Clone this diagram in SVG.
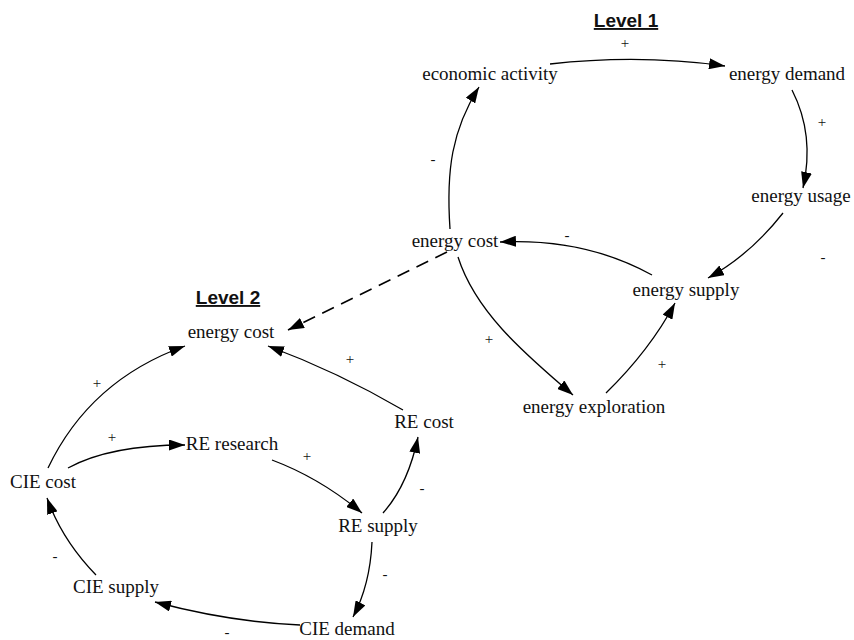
<svg xmlns="http://www.w3.org/2000/svg" width="854" height="640" viewBox="0 0 854 640">
<style>
.n{font-family:"Liberation Serif","Times New Roman",serif;font-size:19px;fill:#111;text-anchor:middle}
.s{font-family:"Liberation Serif","Times New Roman",serif;font-size:15px;fill:#111;text-anchor:middle}
.h{font-family:"Liberation Sans",Arial,sans-serif;font-size:19px;font-weight:bold;fill:#111;text-anchor:middle;text-decoration:underline}
.c{fill:none;stroke:#000;stroke-width:1.3;marker-end:url(#ah)}
.d{fill:none;stroke:#000;stroke-width:1.6;stroke-dasharray:13 8;marker-end:url(#ah)}
</style>
<defs>
<marker id="ah" markerUnits="userSpaceOnUse" markerWidth="16" markerHeight="11" refX="16" refY="5.5" orient="auto">
<path d="M0,0 L16,5.5 L0,11 z" fill="#000"/>
</marker>
</defs>
<rect width="854" height="640" fill="#fff"/>
<text class="h" x="626" y="27">Level 1</text>
<text class="h" x="228" y="304">Level 2</text>
<g id="connectors">
<path class="c" d="M550,64 Q640,54 725,66"/>
<path class="c" d="M792,90 Q815,135 803,188"/>
<path class="c" d="M783,213 Q750,255 708,278"/>
<path class="c" d="M652,275 Q585,238 500,242"/>
<path class="c" d="M450,229 C446,170 452,130 479,87"/>
<path class="c" d="M458,257 C475,310 520,350 573,395"/>
<path class="c" d="M606,393 Q650,350 675,303"/>
<path class="d" d="M447,252 L288,330"/>
<path class="c" d="M48,468 Q90,380 185,346"/>
<path class="c" d="M403,410 Q338,372 268,346"/>
<path class="c" d="M68,468 Q110,445 185,445"/>
<path class="c" d="M272,460 Q320,478 362,513"/>
<path class="c" d="M383,513 Q408,485 418,437"/>
<path class="c" d="M372,542 Q370,585 353,617"/>
<path class="c" d="M300,625 Q230,622 155,602"/>
<path class="c" d="M96,575 Q62,540 47,498"/>
</g>
<g id="polarities">
<text class="s" x="625" y="48">+</text>
<text class="s" x="822" y="127">+</text>
<text class="s" x="433" y="164">-</text>
<text class="s" x="567" y="240">-</text>
<text class="s" x="823" y="262">-</text>
<text class="s" x="489" y="344">+</text>
<text class="s" x="662" y="369">+</text>
<text class="s" x="97" y="388">+</text>
<text class="s" x="350" y="364">+</text>
<text class="s" x="112" y="442">+</text>
<text class="s" x="307" y="461">+</text>
<text class="s" x="422" y="493">-</text>
<text class="s" x="55" y="561">-</text>
<text class="s" x="385" y="579">-</text>
<text class="s" x="227" y="637">-</text>
</g>
<g id="economic-activity"><text class="n" x="490" y="80">economic activity</text></g>
<g id="energy-demand"><text class="n" x="787" y="80">energy demand</text></g>
<g id="energy-usage"><text class="n" x="801" y="202">energy usage</text></g>
<g id="energy-cost-1"><text class="n" x="455" y="247">energy cost</text></g>
<g id="energy-supply"><text class="n" x="686" y="296">energy supply</text></g>
<g id="energy-exploration"><text class="n" x="594" y="413">energy exploration</text></g>
<g id="energy-cost-2"><text class="n" x="231" y="338">energy cost</text></g>
<g id="re-cost"><text class="n" x="424" y="428">RE cost</text></g>
<g id="re-research"><text class="n" x="232" y="450">RE research</text></g>
<g id="cie-cost"><text class="n" x="43" y="488">CIE cost</text></g>
<g id="re-supply"><text class="n" x="378" y="532">RE supply</text></g>
<g id="cie-supply"><text class="n" x="116" y="593">CIE supply</text></g>
<g id="cie-demand"><text class="n" x="347" y="635">CIE demand</text></g>
</svg>
